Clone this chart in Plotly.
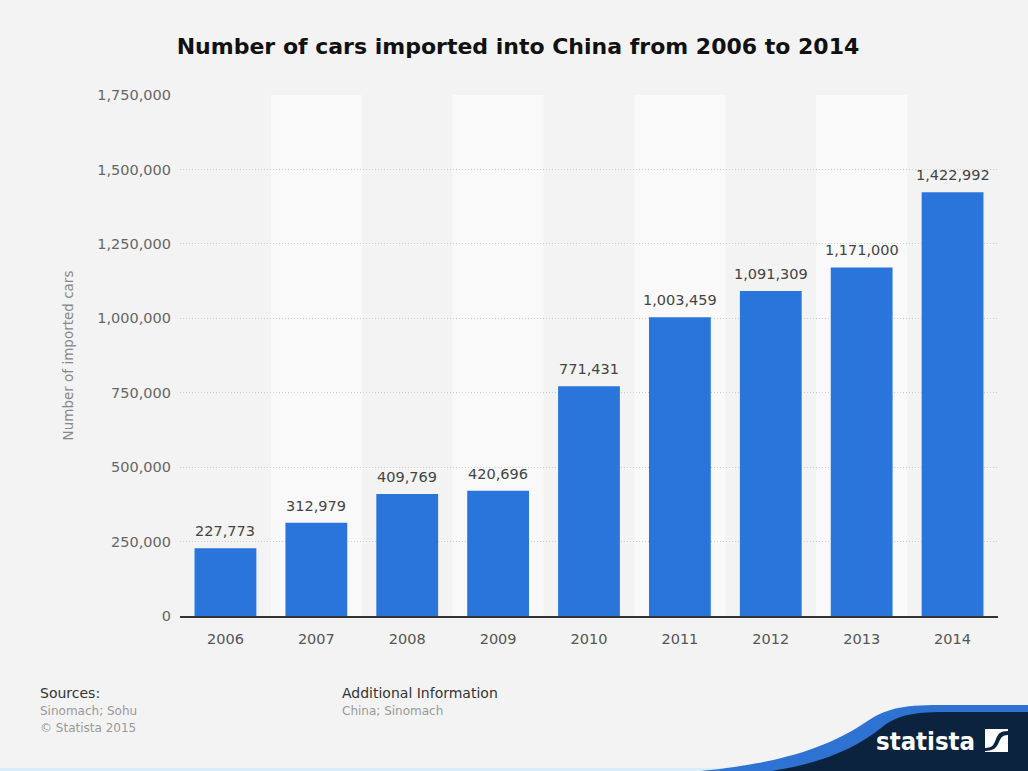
import plotly.graph_objects as go

# Car imports into China, 2006-2014
years = ["2006", "2007", "2008", "2009", "2010", "2011", "2012", "2013", "2014"]
imported_cars = [227773, 312979, 409769, 420696, 771431, 1003459, 1091309, 1171000, 1422992]
y_ticks = [0, 250000, 500000, 750000, 1000000, 1250000, 1500000, 1750000]

BG = "#f3f3f3"
BAND = "#f9f9f9"
BAR = "#2a75dc"
NAVY = "#0c2340"
WAVE = "#2e72d2"
FONT = "DejaVu Sans, Verdana, sans-serif"

# plot area in pixels
L, R, T, B = 180, 998, 95, 616
W, H = R - L, B - T


def px(x):
    return (x - L) / W


def py(y):
    return (B - y) / H


def path(cmds):
    out = []
    for c in cmds:
        if isinstance(c, str):
            out.append(c)
        else:
            out.append(f"{px(c[0]):.5f},{py(c[1]):.5f}")
    return " ".join(out)


fig = go.Figure()
fig.add_trace(go.Bar(
    x=years,
    y=imported_cars,
    marker=dict(color=BAR, line=dict(width=0)),
    width=0.68,
    hoverinfo="x+y",
))

shapes = []
# alternating lighter column bands
for i in range(len(years)):
    if i % 2 == 1:
        shapes.append(dict(type="rect", xref="x", yref="paper", x0=i - 0.5, x1=i + 0.5,
                           y0=0, y1=1, fillcolor=BAND, line=dict(width=0), layer="below"))

# thin light strip along the bottom edge
shapes.append(dict(type="rect", xref="paper", yref="paper", x0=px(0), x1=px(1028),
                   y0=py(771), y1=py(768), fillcolor="#d9ecf9", line=dict(width=0), layer="above"))
# footer wave with the brand strip
shapes.append(dict(type="path", xref="paper", yref="paper", layer="above",
                   fillcolor=WAVE, line=dict(width=0),
                   path=path(["M", (690, 772), "C", (785, 764), (832, 745), (866, 722),
                              "C", (886, 709), (900, 705), (940, 705),
                              "L", (1030, 705), "L", (1030, 772), "Z"])))
shapes.append(dict(type="path", xref="paper", yref="paper", layer="above",
                   fillcolor=NAVY, line=dict(width=0),
                   path=path(["M", (765, 772), "C", (822, 764), (856, 748), (881, 728),
                              "C", (896, 716), (910, 712), (945, 712),
                              "L", (1030, 712), "L", (1030, 772), "Z"])))
# logo square
shapes.append(dict(type="rect", xref="paper", yref="paper", x0=px(985), x1=px(1008),
                   y0=py(752), y1=py(729), fillcolor="white", line=dict(width=0), layer="above"))
shapes.append(dict(type="path", xref="paper", yref="paper", layer="above",
                   fillcolor=NAVY, line=dict(width=0),
                   path=path(["M", (985, 748), "C", (993, 748), (994, 744), (996, 739),
                              "C", (998, 734), (1000, 731), (1008, 731),
                              "L", (1008, 735), "C", (1002, 735), (1001, 738), (999, 742),
                              "C", (997, 747), (994, 751), (985, 751), "Z"])))

ann = []
# value labels above the bars (category index positions)
for i, v in enumerate(imported_cars):
    ann.append(dict(text=f"{v:,}", x=i, y=v, xref="x", yref="y",
                    xanchor="center", yanchor="bottom", yshift=7, showarrow=False,
                    font=dict(family=FONT, size=14.5, color="#444444")))

footer = [
    ("Sources:", 38, 693, 14, "#333333"),
    ("Sinomach; Sohu", 38, 711, 12, "#999999"),
    ("© Statista 2015", 38, 728, 12, "#999999"),
    ("Additional Information", 340, 693, 14, "#333333"),
    ("China; Sinomach", 340, 711, 12, "#999999"),
]
for text, x, y, size, color in footer:
    ann.append(dict(text=text, xref="paper", yref="paper", x=px(x), y=py(y),
                    xanchor="left", yanchor="middle", showarrow=False,
                    font=dict(family=FONT, size=size, color=color)))
ann.append(dict(text="<b>statista</b>", xref="paper", yref="paper",
                x=px(977), y=py(741), xanchor="right", yanchor="middle", showarrow=False,
                font=dict(family="Liberation Sans Narrow, DejaVu Sans Condensed, sans-serif",
                          size=25.5, color="white")))

fig.update_layout(
    width=1028, height=771,
    margin=dict(l=L, r=1028 - R, t=T, b=771 - B),
    paper_bgcolor=BG, plot_bgcolor=BG,
    font=dict(family=FONT, color="#555555"),
    title=dict(text="<b>Number of cars imported into China from 2006 to 2014</b>",
               x=px(518), xref="paper", xanchor="center", y=1 - 46 / 771, yanchor="middle",
               font=dict(family=FONT, size=22, color="#111111")),
    showlegend=False,
    bargap=0.32,
    shapes=shapes,
    annotations=ann,
    xaxis=dict(
        type="category",
        range=[-0.5, len(years) - 0.5],
        showgrid=False,
        showline=True, linecolor="#333333", linewidth=2,
        ticks="", tickfont=dict(size=14.5, color="#555555"),
        ticklabelstandoff=9,
        fixedrange=True,
    ),
    yaxis=dict(
        range=[0, 1750000],
        tickvals=y_ticks,
        ticktext=[f"{v:,}" for v in y_ticks],
        tickfont=dict(size=14.5, color="#666666"),
        ticklabelstandoff=8,
        showgrid=True, gridcolor="#cccccc", gridwidth=1, griddash="1px,2px",
        zeroline=False, showline=False,
        title=dict(text="Number of imported cars", standoff=20,
                   font=dict(size=13.5, color="#888888")),
        fixedrange=True,
    ),
)

fig.write_html("out.html")
